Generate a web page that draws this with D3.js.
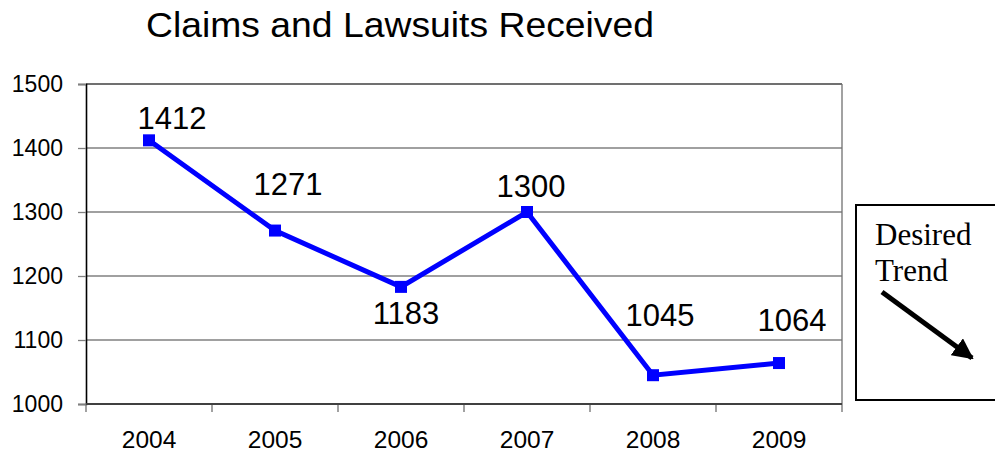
<!DOCTYPE html>
<html>
<head>
<meta charset="utf-8">
<script src="https://cdn.jsdelivr.net/npm/d3@7"></script>
<style>
  html, body { margin: 0; padding: 0; background: #fff; }
  svg { display: block; }
</style>
</head>
<body>
<svg id="chart" width="995" height="452"></svg>
<script>
// Claims and lawsuits received per year
const years = ["2004", "2005", "2006", "2007", "2008", "2009"];
const claims = [1412, 1271, 1183, 1300, 1045, 1064];
const yTicks = [1000, 1100, 1200, 1300, 1400, 1500];
// Label offsets (dx, dy) from each point, in pixels
const labelOffsets = [[23, -11], [13, -36], [5, 37], [4, -15], [7, -49], [13, -32]];

const svg = d3.select("#chart");
const plotLeft = 86, plotRight = 842, plotTop = 84, plotBottom = 404;

const x = d3.scaleBand().domain(years).range([plotLeft, plotRight]).padding(0);
const y = d3.scaleLinear().domain([1000, 1500]).range([plotBottom, plotTop]);

// Title
svg.append("text")
  .attr("x", 146).attr("y", 37)
  .attr("font-family", "Liberation Sans, Arial, sans-serif")
  .attr("font-size", 35)
  .attr("textLength", 508)
  .attr("lengthAdjust", "spacingAndGlyphs")
  .text("Claims and Lawsuits Received");

// Horizontal gridlines
svg.append("g")
  .selectAll("line")
  .data(yTicks.filter(d => d !== 1000))
  .join("line")
  .attr("x1", plotLeft).attr("x2", plotRight)
  .attr("y1", d => y(d)).attr("y2", d => y(d))
  .attr("stroke", d => d === 1500 ? "#404040" : "#808080")
  .attr("stroke-width", 1.3);

// Right border of plot area
svg.append("line")
  .attr("x1", plotRight).attr("x2", plotRight)
  .attr("y1", plotTop).attr("y2", plotBottom)
  .attr("stroke", "#707070").attr("stroke-width", 1.3);

// Y axis
const yAxis = svg.append("g")
  .attr("transform", `translate(${plotLeft},0)`)
  .call(d3.axisLeft(y).tickValues(yTicks).tickSize(8).tickPadding(15).tickFormat(d3.format("d")));
yAxis.select(".domain").attr("stroke", "#000").attr("stroke-width", 1.6);
yAxis.selectAll(".tick line").attr("stroke", "#808080").attr("stroke-width", 1.3);
yAxis.selectAll("text")
  .attr("font-family", "Liberation Sans, Arial, sans-serif")
  .attr("font-size", 23)
  .attr("fill", "#000");

// X axis: labels centred in bands, ticks at band boundaries
const xAxis = svg.append("g")
  .attr("transform", `translate(0,${plotBottom})`)
  .call(d3.axisBottom(x).tickSize(0).tickPadding(27));
xAxis.select(".domain").remove();
xAxis.selectAll("text")
  .attr("font-family", "Liberation Sans, Arial, sans-serif")
  .attr("font-size", 24.5)
  .attr("fill", "#000");

const boundaries = years.map(d => x(d)).concat([x(years[years.length - 1]) + x.bandwidth()]);
svg.append("g")
  .selectAll("line")
  .data(boundaries)
  .join("line")
  .attr("x1", d => d).attr("x2", d => d)
  .attr("y1", plotBottom).attr("y2", plotBottom + 8)
  .attr("stroke", "#707070").attr("stroke-width", 1.3);

svg.append("line")
  .attr("x1", plotLeft).attr("x2", plotRight)
  .attr("y1", plotBottom).attr("y2", plotBottom)
  .attr("stroke", "#404040").attr("stroke-width", 1.8);

// Series line
const cx = d => x(d) + x.bandwidth() / 2;
const line = d3.line()
  .x((d, i) => cx(years[i]))
  .y(d => y(d));

svg.append("path")
  .datum(claims)
  .attr("d", line)
  .attr("fill", "none")
  .attr("stroke", "#0000ff")
  .attr("stroke-width", 5)
  .attr("stroke-linejoin", "miter");

// Square markers
svg.append("g")
  .selectAll("rect")
  .data(claims)
  .join("rect")
  .attr("x", (d, i) => cx(years[i]) - 6)
  .attr("y", d => y(d) - 6)
  .attr("width", 12).attr("height", 12)
  .attr("fill", "#0000ff");

// Value labels
svg.append("g")
  .selectAll("text")
  .data(claims)
  .join("text")
  .attr("x", (d, i) => cx(years[i]) + labelOffsets[i][0])
  .attr("y", (d, i) => y(d) + labelOffsets[i][1])
  .attr("text-anchor", "middle")
  .attr("font-family", "Liberation Sans, Arial, sans-serif")
  .attr("font-size", 31)
  .attr("fill", "#000")
  .text(d => d);

// "Desired Trend" box
svg.append("rect")
  .attr("x", 856).attr("y", 205)
  .attr("width", 160).attr("height", 195)
  .attr("fill", "#fff")
  .attr("stroke", "#000").attr("stroke-width", 2);

const trend = svg.append("text")
  .attr("font-family", "Liberation Serif, Times New Roman, serif")
  .attr("font-size", 31)
  .attr("fill", "#000");
trend.append("tspan").attr("x", 875).attr("y", 245).text("Desired");
trend.append("tspan").attr("x", 875).attr("y", 281).text("Trend");

svg.append("defs").append("marker")
  .attr("id", "arrowhead")
  .attr("viewBox", "0 0 10 10")
  .attr("refX", 9).attr("refY", 5)
  .attr("markerWidth", 4.2).attr("markerHeight", 4.2)
  .attr("markerUnits", "strokeWidth")
  .attr("orient", "auto")
  .append("path")
  .attr("d", "M0,0 L10,5 L0,10 Z")
  .attr("fill", "#000");

svg.append("line")
  .attr("x1", 882).attr("y1", 292)
  .attr("x2", 972).attr("y2", 358)
  .attr("stroke", "#000")
  .attr("stroke-width", 5)
  .attr("marker-end", "url(#arrowhead)");
</script>
</body>
</html>
